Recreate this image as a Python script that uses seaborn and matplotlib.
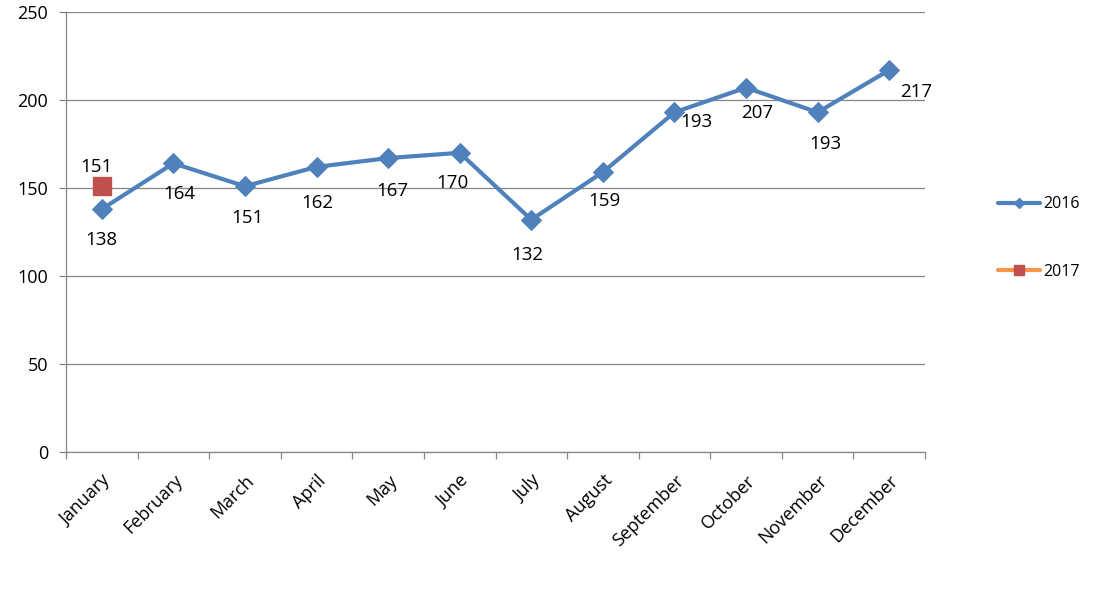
import numpy as np
import pandas as pd
import matplotlib
matplotlib.use("Agg")
import matplotlib.pyplot as plt
from matplotlib.lines import Line2D
import seaborn as sns

# dados
meses = ["January", "February", "March", "April", "May", "June",
         "July", "August", "September", "October", "November", "December"]
vendas_2016 = [138, 164, 151, 162, 167, 170, 132, 159, 193, 207, 193, 217]
meses_2017 = ["January"]
vendas_2017 = [151]

# deslocamento dos rótulos (pixels) — só layout
desloc_2016 = [(0, -31), (6, -31), (2, -32), (1, -36), (4, -33), (-7, -30),
               (-4, -35), (2, -29), (22, -10), (11, -25), (8, -32), (27, -22)]
desloc_2017 = [(-5, 19)]

AZUL = "#4F81BD"
VERMELHO = "#C0504D"
LARANJA = "#F79646"

sns.set_theme(style="white")
plt.rcParams["font.family"] = ["Open Sans", "DejaVu Sans"]
plt.rcParams["text.color"] = "black"
plt.rcParams["xtick.color"] = "black"
plt.rcParams["ytick.color"] = "black"

df16 = pd.DataFrame({"mes": meses, "valor": vendas_2016})
df17 = pd.DataFrame({"mes": meses_2017, "valor": vendas_2017})
pos = {m: i for i, m in enumerate(meses)}
df16["x"] = df16["mes"].map(pos)
df17["x"] = df17["mes"].map(pos)

fig = plt.figure(figsize=(11.14, 5.89), dpi=100)
ax = fig.add_axes([66 / 1114, 1 - 452 / 589, (925 - 66) / 1114, (452 - 12) / 589])

sns.lineplot(data=df16, x="x", y="valor", ax=ax, color=AZUL, linewidth=3,
             marker="D", markersize=10, markeredgecolor=AZUL, sort=False, zorder=3)
sns.scatterplot(data=df17, x="x", y="valor", ax=ax, color=VERMELHO, marker="s",
                s=150, edgecolor=VERMELHO, zorder=4)

for xi, v, (dx, dy) in zip(df16["x"], vendas_2016, desloc_2016):
    ax.annotate(str(v), (xi, v), xytext=(dx * 0.72, dy * 0.72), textcoords="offset points",
                ha="center", va="center", fontsize=13.5, color="black")
for xi, v, (dx, dy) in zip(df17["x"], vendas_2017, desloc_2017):
    ax.annotate(str(v), (xi, v), xytext=(dx * 0.72, dy * 0.72), textcoords="offset points",
                ha="center", va="center", fontsize=13.5, color="black")

ax.set_xlim(-0.5, len(meses) - 0.5)
ax.set_ylim(0, 250)
ax.set_yticks(range(0, 251, 50))
ax.yaxis.grid(True, color="#868686", linewidth=0.9)
ax.set_axisbelow(True)

ax.set_xticks(range(len(meses)))
ax.set_xticklabels(meses, rotation=45, ha="right", rotation_mode="anchor", fontsize=13)
ax.set_xticks(np.arange(-0.5, len(meses)), minor=True)
ax.tick_params(axis="x", which="major", length=0, pad=14, labelcolor="black")
ax.tick_params(axis="x", which="minor", length=5, color="#868686", width=0.9, bottom=True)
ax.tick_params(axis="y", length=5, color="#868686", width=0.9, left=True, labelsize=13,
               pad=8, labelcolor="black")
ax.set_xlabel("")
ax.set_ylabel("")

for lado in ["top", "right"]:
    ax.spines[lado].set_visible(False)
for lado in ["left", "bottom"]:
    ax.spines[lado].set_color("#868686")
    ax.spines[lado].set_linewidth(0.9)

handles = [
    Line2D([], [], color=AZUL, linewidth=3, marker="D", markersize=5),
    Line2D([], [], color=LARANJA, linewidth=3, marker="s", markersize=7,
           markerfacecolor=VERMELHO, markeredgecolor=VERMELHO),
]
leg = fig.legend(handles, ["2016", "2017"], loc="center left",
                 bbox_to_anchor=(984 / 1114, 1 - 238 / 589), frameon=False,
                 fontsize=11.5, labelspacing=3.2, handlelength=2.6, handletextpad=0.2)
for t in leg.get_texts():
    t.set_color("black")

fig.savefig("out.png", dpi=100)
